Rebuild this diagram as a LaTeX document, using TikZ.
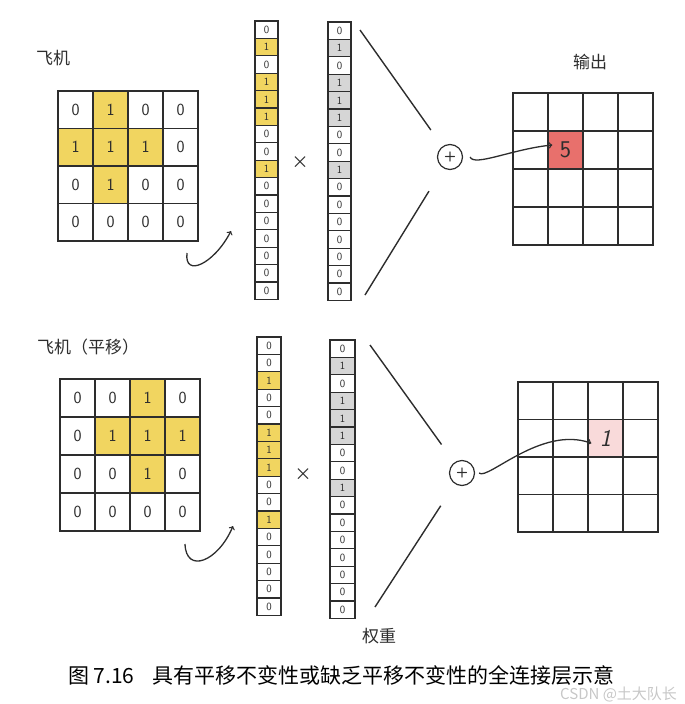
\documentclass[tikz,border=0pt]{standalone}
\usepackage{fontspec}
\newfontfamily\cjk{Noto Sans CJK SC}
\definecolor{ink}{RGB}{45,45,45}
\definecolor{plane0}{RGB}{255,255,255}
\definecolor{plane1}{RGB}{241,213,96}
\definecolor{weight0}{RGB}{255,255,255}
\definecolor{weight1}{RGB}{214,214,214}
\definecolor{outred}{RGB}{232,112,108}
\definecolor{outpink}{RGB}{249,218,218}

\begin{document}
\begin{tikzpicture}[x=1pt, y=-1pt, line width=1.4pt, color=ink,
    gridcell/.style={draw, rectangle, minimum width=35pt, minimum height=37.5pt, inner sep=0pt, font=\sffamily\fontsize{17}{17}\selectfont},
    outcell/.style={draw, rectangle, minimum width=35pt, minimum height=38pt, inner sep=0pt, font=\sffamily\fontsize{24}{24}\selectfont},
    veccell/.style={draw, rectangle, minimum width=23pt, minimum height=17.4pt, inner sep=0pt, line width=1.1pt, font=\sffamily\fontsize{11}{11}\selectfont},
    sumnode/.style={draw, circle, minimum size=25pt, inner sep=0pt, line width=1.2pt, font=\sffamily\bfseries\fontsize{14}{14}\selectfont},
    tag/.style={font=\cjk\fontsize{17}{17}\selectfont},
    hook/.style={->, line width=1.3pt}]
    \useasboundingbox (0,0) rectangle (685,704);

    \node (planea-tag) [tag] at (53,58) {飞机};
    \foreach \row [count=\r from 0] in {{0,1,0,0},{1,1,1,0},{0,1,0,0},{0,0,0,0}}
        \foreach \v [count=\c from 0] in \row
            \node (planea-\r-\c) [gridcell, fill=plane\v] at (75.5+35*\c, 109.75+37.5*\r) {\v};
    \coordinate (benda-start) at (187,253);
    \coordinate (benda-end) at (231,231);
    \draw[hook] (benda-start) .. controls (184,278) and (214,264) .. (benda-end);

    \foreach \v [count=\i from 0] in {0,1,0,1,1,1,0,0,1,0,0,0,0,0,0,0}
        \node (veca-\i) [veccell, fill=plane\v] at (266.5, 29.7+17.4*\i) {\v};
    \node (timesa) [font=\cjk\fontsize{17}{17}\selectfont] at (300,163) {×};
    \foreach \v [count=\i from 0] in {0,1,0,1,1,1,0,0,1,0,0,0,0,0,0,0}
        \node (wa-\i) [veccell, fill=weight\v] at (339.5, 30.7+17.4*\i) {\v};

    \node (suma) [sumnode] at (450,157) {+};
    \coordinate (wa-top) at (360,30);
    \coordinate (wa-bot) at (365,295);
    \draw[shorten >=20pt] (wa-top) -- (suma);
    \draw[shorten >=27pt] (wa-bot) -- (suma);

    \node (outa-tag) [tag] at (590,62) {输出};
    \foreach \r in {0,...,3}
        \foreach \c in {0,...,3}
            \node (outa-\r-\c) [outcell] at (530.5+35*\c, 112+38*\r) {};
    \node (outa-hit) [outcell, fill=outred] at (outa-1-1) {5};
    \draw[hook] ([xshift=7pt]suma.east) .. controls +(4,10) and +(-40,4) .. ([xshift=5pt, yshift=5pt]outa-hit.west);

    \node (planeb-tag) [tag, anchor=west] at (33,347) {飞机（平移）};
    \foreach \row [count=\r from 0] in {{0,0,1,0},{0,1,1,1},{0,0,1,0},{0,0,0,0}}
        \foreach \v [count=\c from 0] in \row
            \node (planeb-\r-\c) [gridcell, minimum height=38pt, fill=plane\v] at (77.5+35*\c, 398+38*\r) {\v};
    \coordinate (bendb-start) at (185,544);
    \coordinate (bendb-end) at (233,526);
    \draw[hook] (bendb-start) .. controls (186,574) and (218,562) .. (bendb-end);

    \foreach \v [count=\i from 0] in {0,0,1,0,0,1,1,1,0,0,1,0,0,0,0,0}
        \node (vecb-\i) [veccell, minimum width=24pt, fill=plane\v] at (269, 345.7+17.4*\i) {\v};
    \node (timesb) [font=\cjk\fontsize{17}{17}\selectfont] at (303,475) {×};
    \foreach \v [count=\i from 0] in {0,1,0,1,1,1,0,0,1,0,0,0,0,0,0,0}
        \node (wb-\i) [veccell, minimum width=25pt, fill=weight\v] at (342.5, 348.7+17.4*\i) {\v};

    \node (sumb) [sumnode] at (462,473) {+};
    \coordinate (wb-top) at (370,345);
    \coordinate (wb-bot) at (375,607);
    \draw[shorten >=22pt] (wb-top) -- (sumb);
    \draw[shorten >=26pt] (wb-bot) -- (sumb);
    \node (weight-tag) [tag] at (379,636) {权重};

    \foreach \r in {0,...,3}
        \foreach \c in {0,...,3}
            \node (outb-\r-\c) [outcell, minimum height=37.5pt] at (535.5+35*\c, 400.75+37.5*\r) {};
    \node (outb-hit) [outcell, minimum height=37.5pt, fill=outpink, font=\sffamily\itshape\fontsize{24}{24}\selectfont] at (outb-1-2) {1};
    \draw[hook] ([xshift=4pt]sumb.east) .. controls +(8,8) and +(-50,-18) .. ([xshift=4pt, yshift=-5pt]outb-hit.west);

    \node (caption) [anchor=west, text=black, font=\cjk\fontsize{21}{21}\selectfont] at (64,675) {图 7.16\hspace{18pt}具有平移不变性或缺乏平移不变性的全连接层示意};
    \node (mark) [anchor=east, text=black!22, font=\cjk\fontsize{15}{15}\selectfont] at (681,694) {CSDN @土大队长};
\end{tikzpicture}
\end{document}
